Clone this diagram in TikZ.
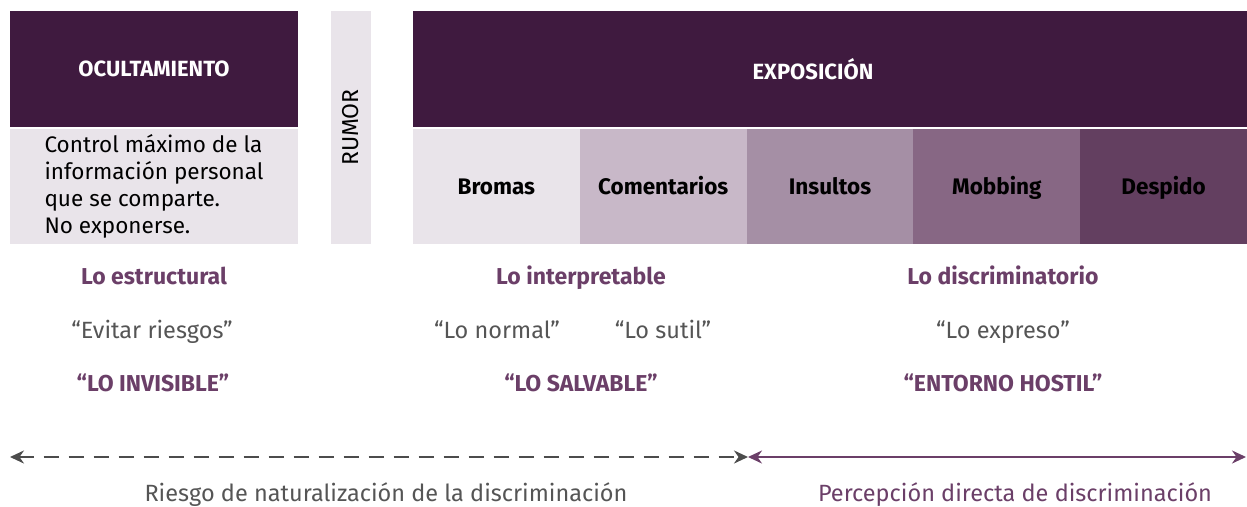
\documentclass[tikz,border=0pt]{standalone}
\usepackage{fontspec}
\setmainfont{Fira Sans}
\usetikzlibrary{arrows.meta,positioning}
\definecolor{plum}{HTML}{3F1A3F}
\definecolor{lilacA}{HTML}{E9E4EA}
\definecolor{lilacB}{HTML}{C8B8C8}
\definecolor{lilacC}{HTML}{A58FA5}
\definecolor{lilacD}{HTML}{876784}
\definecolor{lilacE}{HTML}{633F60}
\definecolor{plumtext}{HTML}{6B3F68}
\definecolor{greytext}{HTML}{555555}
\tikzstyle{head} = [rectangle, fill=plum, text=white, inner sep=0pt, outer sep=0pt,
    minimum height=116pt, font=\bfseries\fontsize{22}{26}\selectfont]
\tikzstyle{seg} = [rectangle, text=black, inner sep=0pt, outer sep=0pt, text height=20pt, text depth=4pt,
    minimum width=166.8pt, minimum height=115pt, font=\bfseries\fontsize{22.5}{26}\selectfont]
\tikzstyle{infobox} = [rectangle, fill=lilacA, text=black, inner sep=0pt, outer sep=0pt,
    minimum width=288pt, minimum height=115pt, align=left, font=\fontsize{22.5}{27}\selectfont]
\tikzstyle{tag} = [text=plumtext, text height=16pt, text depth=5pt, font=\bfseries\fontsize{23}{27}\selectfont]
\tikzstyle{say} = [text=greytext, text height=16pt, text depth=5pt, font=\fontsize{23.5}{27}\selectfont]
\tikzstyle{note} = [text height=16pt, text depth=5pt, font=\fontsize{23.5}{27}\selectfont]
\tikzstyle{tip} = [line width=2.8pt, {Stealth[length=14pt,width=13pt]}-{Stealth[length=14pt,width=13pt]}]

\begin{document}
\begin{tikzpicture}[x=1pt,y=-1pt]
  \useasboundingbox (0,0) rectangle (1247,506);
  % upper blocks
  \node[head, minimum width=288pt]  (ocult) at (154,69) {OCULTAMIENTO};
  \node[infobox, below=2pt of ocult] (control)
        {Control máximo de la\\información personal\\que se comparte.\\No exponerse.};
  \node[rectangle, fill=lilacA, rotate=90, minimum width=233pt, minimum height=40pt,
        inner sep=0pt, font=\fontsize{23}{27}\selectfont] (rumor) at (351,127.5) {RUMOR};
  \node[head, minimum width=834pt]  (expo)  at (830,69) {\hspace*{-34pt}EXPOSICIÓN};

  \node[seg, fill=lilacA, anchor=north west] (bromas) at (413,129) {Bromas};
  \node[seg, fill=lilacB] (coment) [right=0pt of bromas] {Comentarios};
  \node[seg, fill=lilacC] (insult) [right=0pt of coment] {Insultos};
  \node[seg, fill=lilacD] (mobbing) [right=0pt of insult] {Mobbing};
  \node[seg, fill=lilacE] (despido) [right=0pt of mobbing] {Despido};

  % levels
  \node[tag] (estruct) at (154,279) {Lo estructural};
  \node[tag] (interp)  at (581,279) {Lo interpretable};
  \node[tag] (discrim) at (1003,279) {Lo discriminatorio};

  \node[say] (evitar)  at (152,333) {“Evitar riesgos”};
  \node[say] (normal)  at (497,333) {“Lo normal”};
  \node[say] (sutil)   at (663,333) {“Lo sutil”};
  \node[say] (expreso) at (1003,333) {“Lo expreso”};

  \node[tag] (invis)   at (153,386) {“LO INVISIBLE”};
  \node[tag] (salva)   at (581,386) {“LO SALVABLE”};
  \node[tag] (hostil)  at (1003,386) {“ENTORNO HOSTIL”};

  % arrows
  \coordinate (aL) at (10,457);
  \coordinate (aM) at (748,457);
  \coordinate (aR) at (1246,457);
  \draw[tip, greytext!90!black, dash pattern=on 15pt off 10pt] (aL) -- (aM);
  \draw[tip, plumtext] (aM) -- (aR);

  \node[note, text=greytext] (riesgo) at (386,496) {Riesgo de naturalización de la discriminación};
  \node[note, text=plumtext] (percep) at (1015,496) {Percepción directa de discriminación};
\end{tikzpicture}
\end{document}
